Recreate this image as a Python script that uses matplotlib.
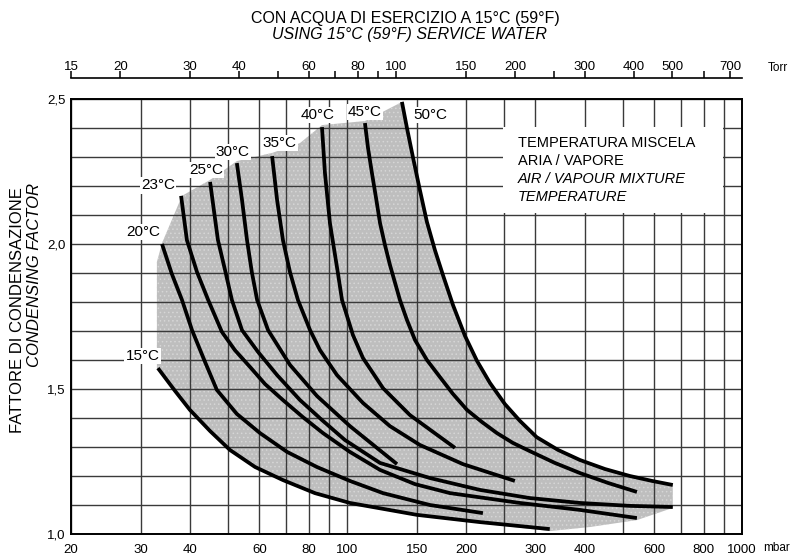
import matplotlib

matplotlib.use("Agg")
import matplotlib.pyplot as plt
from matplotlib.patches import Rectangle
from matplotlib.ticker import FixedLocator, MultipleLocator, FuncFormatter, NullFormatter

plt.rcParams["font.family"] = ["Liberation Sans Narrow", "Liberation Sans", "DejaVu Sans"]
plt.rcParams["hatch.linewidth"] = 0.6

TORR_PER_MBAR = 0.750062

# bottom axis (mbar) and top axis (Torr)
MBAR_LABELS = [20, 30, 40, 60, 80, 100, 150, 200, 300, 400, 600, 800, 1000]
MBAR_GRID = [20, 30, 40, 50, 60, 70, 80, 90, 100, 150, 200, 250, 300, 400,
             500, 600, 700, 800, 900, 1000]
TORR_LABELS = [15, 20, 30, 40, 60, 80, 100, 150, 200, 300, 400, 500, 700]
TORR_TICKS = [15, 20, 30, 40, 50, 60, 70, 80, 90, 100, 150, 200, 250, 300,
              400, 500, 600, 700]
FACTOR_LABELS = [1.0, 1.5, 2.0, 2.5]

# condensing factor curves, one per air/vapour mixture temperature
T15_MBAR = [33.2, 36.7, 40.0, 45.0, 50.5, 58.5, 68.8, 82.9, 101.7, 150.3, 217, 326]
T15_F = [1.572, 1.493, 1.428, 1.355, 1.290, 1.231, 1.186, 1.141, 1.107, 1.066, 1.041, 1.017]

T20_MBAR = [34.0, 36.0, 38.2, 40.5, 43.7, 46.8, 52.6, 60.2, 70.5, 83.9, 101.7, 123.3, 162.1, 220.8]
T20_F = [2.000, 1.897, 1.807, 1.703, 1.593, 1.497, 1.414, 1.348, 1.283, 1.231, 1.183, 1.141, 1.100, 1.072]

T23_MBAR = [38.0, 39.3, 41.7, 44.5, 48.2, 52.0, 56.8, 62.0, 68.8, 77.3, 86.9, 101.7, 121.2,
            148.6, 182.2, 274, 389, 542]
T23_F = [2.166, 2.014, 1.903, 1.807, 1.697, 1.634, 1.576, 1.517, 1.462, 1.403, 1.348, 1.283,
         1.221, 1.172, 1.141, 1.107, 1.083, 1.055]

T25_MBAR = [45.0, 46.0, 47.1, 49.1, 51.1, 54.2, 59.5, 66.5, 76.0, 86.4, 98.8, 121.2, 162.1,
            217, 290, 389, 520, 668]
T25_F = [2.214, 2.117, 2.014, 1.910, 1.807, 1.703, 1.628, 1.548, 1.462, 1.393, 1.324, 1.245,
         1.193, 1.152, 1.124, 1.107, 1.097, 1.093]

T30_MBAR = [52.6, 54.2, 55.8, 57.4, 59.2, 63.1, 71.7, 83.9, 101.7, 133.8]
T30_F = [2.279, 2.152, 2.014, 1.903, 1.807, 1.703, 1.583, 1.476, 1.372, 1.241]

T35_MBAR = [64.6, 66.5, 68.8, 71.7, 75.1, 80.6, 85.4, 94.3, 109.7, 128.4, 152.9, 196.5, 266]
T35_F = [2.303, 2.152, 2.014, 1.903, 1.807, 1.703, 1.634, 1.548, 1.452, 1.372, 1.307, 1.241, 1.183]

T40_MBAR = [86.4, 87.9, 90.5, 94.8, 97.1, 103.5, 109.7, 123.3, 144.3, 187.6]
T40_F = [2.403, 2.245, 2.072, 1.900, 1.807, 1.686, 1.607, 1.503, 1.410, 1.297]

T45_MBAR = [111.0, 113.0, 115.6, 118.4, 121.2, 124.7, 128.4, 136.1, 141.8, 148.6, 159.3,
            171.9, 185.4, 201.2, 219.6, 239.6, 263, 290, 336, 389, 458, 542]
T45_F = [2.417, 2.331, 2.245, 2.159, 2.072, 1.997, 1.928, 1.807, 1.738, 1.669, 1.600,
         1.541, 1.483, 1.428, 1.386, 1.348, 1.314, 1.286, 1.245, 1.210, 1.176, 1.145]

T50_MBAR = [137.7, 141.8, 146.8, 152.9, 159.3, 166.9, 174.9, 185.4, 198.9, 213.3, 230,
            251, 274, 302, 342, 389, 450, 520, 592, 668]
T50_F = [2.490, 2.400, 2.300, 2.186, 2.076, 1.979, 1.893, 1.790, 1.683, 1.597, 1.521,
         1.448, 1.390, 1.334, 1.290, 1.255, 1.224, 1.200, 1.183, 1.169]

# outline of the shaded field of validity (apex, 50 °C side, bottom, left side, top edge)
SHADE_MBAR = [141, 137.7, 141.8, 146.8, 152.9, 159.3, 166.9, 174.9, 185.4, 198.9, 213.3, 230,
              251, 274, 302, 342, 389, 450, 520, 592, 668,
              668, 542, 412, 326, 217, 150.3, 101.7, 82.9, 68.8, 58.5, 50.5, 45.0,
              40.0, 36.7, 33.2, 33.0, 33.0, 34.0, 38.2, 45.0, 52.6, 64.6, 76.0, 86.4, 111.0]
SHADE_F = [2.497, 2.490, 2.400, 2.300, 2.186, 2.076, 1.979, 1.893, 1.790, 1.683, 1.597, 1.521,
           1.448, 1.390, 1.334, 1.290, 1.255, 1.224, 1.200, 1.183, 1.169,
           1.090, 1.048, 1.024, 1.010, 1.037, 1.062, 1.103, 1.137, 1.182, 1.227, 1.286, 1.351,
           1.424, 1.489, 1.568, 1.572, 1.938, 2.003, 2.166, 2.221, 2.286, 2.314, 2.348, 2.410, 2.424]

CURVES = [
    ("15°C", T15_MBAR, T15_F, (30.4, 1.614)),
    ("20°C", T20_MBAR, T20_F, (30.4, 2.041)),
    ("23°C", T23_MBAR, T23_F, (33.2, 2.203)),
    ("25°C", T25_MBAR, T25_F, (43.9, 2.255)),
    ("30°C", T30_MBAR, T30_F, (51.4, 2.317)),
    ("35°C", T35_MBAR, T35_F, (67.6, 2.348)),
    ("40°C", T40_MBAR, T40_F, (84.4, 2.445)),
    ("45°C", T45_MBAR, T45_F, (111.0, 2.455)),
    ("50°C", T50_MBAR, T50_F, (162.1, 2.445)),
]

W, H = 794, 557


def main() -> None:
    fig = plt.figure(figsize=(W / 100, H / 100), dpi=100)
    left, right, top, bottom = 71, 742, 99, 534
    ax = fig.add_axes([left / W, 1 - bottom / H, (right - left) / W, (bottom - top) / H])
    ax.set_xscale("log")
    ax.set_xlim(20, 1000)
    ax.set_ylim(1.0, 2.5)

    ax.xaxis.set_major_locator(FixedLocator(MBAR_LABELS))
    ax.xaxis.set_major_formatter(FuncFormatter(lambda v, p: f"{v:g}"))
    ax.xaxis.set_minor_locator(FixedLocator(MBAR_GRID))
    ax.xaxis.set_minor_formatter(NullFormatter())
    ax.yaxis.set_major_locator(FixedLocator(FACTOR_LABELS))
    ax.yaxis.set_major_formatter(FuncFormatter(lambda v, p: f"{v:.1f}".replace(".", ",")))
    ax.yaxis.set_minor_locator(MultipleLocator(0.1))
    ax.tick_params(which="both", length=0, labelsize=9.5)
    ax.tick_params(axis="x", pad=7)
    ax.tick_params(axis="y", pad=4)
    ax.grid(True, which="both", color="#3a3a3a", linewidth=1.0)
    ax.set_axisbelow(False)
    for s in ax.spines.values():
        s.set_linewidth(1.4)
        s.set_zorder(6)

    ax.fill(SHADE_MBAR, SHADE_F, facecolor="#bebebe", edgecolor="#d6d6d6",
            hatch="....", linewidth=0, zorder=0.5)
    for g in ax.get_xgridlines() + ax.get_ygridlines():
        g.set_zorder(1)

    for label, xs, ys, (lx, ly) in CURVES:
        ax.plot(xs, ys, color="black", linewidth=2.7, solid_capstyle="butt",
                solid_joinstyle="round", zorder=3)
        ax.text(lx, ly, label, ha="center", va="center", fontsize=11, zorder=5,
                bbox=dict(facecolor="white", edgecolor="none", pad=1.0))

    # legend box
    bx0, by0 = (503 - left) / (right - left), (bottom - 213) / (bottom - top)
    ax.add_patch(Rectangle((bx0, by0), 220 / (right - left), 86 / (bottom - top),
                           transform=ax.transAxes, facecolor="white", edgecolor="none", zorder=4))
    tx = (518 - left) / (right - left)
    box_lines = [("TEMPERATURA MISCELA", "normal", 143), ("ARIA / VAPORE", "normal", 161),
                 ("AIR / VAPOUR MIXTURE", "italic", 179), ("TEMPERATURE", "italic", 197)]
    for txt, style, py in box_lines:
        ax.text(tx, (bottom - py) / (bottom - top), txt, transform=ax.transAxes,
                ha="left", va="center", fontsize=10.5, style=style, zorder=5)

    # Torr scale above the chart
    line_y = 78
    axt = fig.add_axes([left / W, 1 - line_y / H, (right - left) / W, 0.001])
    axt.set_xscale("log")
    axt.set_xlim(15, 1000 * TORR_PER_MBAR)
    axt.set_ylim(0, 1)
    axt.patch.set_visible(False)
    for name, s in axt.spines.items():
        s.set_visible(name == "bottom")
    axt.spines["bottom"].set_linewidth(1.2)
    axt.yaxis.set_visible(False)
    axt.xaxis.set_major_locator(FixedLocator(TORR_TICKS))
    axt.xaxis.set_major_formatter(
        FuncFormatter(lambda v, p: f"{v:g}" if round(v) in TORR_LABELS else ""))
    axt.xaxis.set_minor_locator(FixedLocator([]))
    axt.tick_params(axis="x", which="major", direction="in", length=5, width=1.1,
                    bottom=True, top=False, labelbottom=False, labeltop=True,
                    labelsize=9.5, pad=3)

    fig.text(778 / W, 1 - 68 / H, "Torr", fontsize=8.5, ha="center", va="center")
    fig.text(777 / W, 1 - 548 / H, "mbar", fontsize=8.5, ha="center", va="center")

    fig.text(405 / W, 1 - 18 / H, "CON ACQUA DI ESERCIZIO A 15°C (59°F)",
             fontsize=11.5, ha="center", va="center")
    fig.text(409 / W, 1 - 35 / H, "USING 15°C (59°F) SERVICE WATER",
             fontsize=11.5, ha="center", va="center", style="italic")

    fig.text(18 / W, 1 - 310 / H, "FATTORE DI CONDENSAZIONE", rotation=90,
             fontsize=12, ha="center", va="center")
    fig.text(35 / W, 1 - 275 / H, "CONDENSING FACTOR", rotation=90,
             fontsize=12, ha="center", va="center", style="italic")

    fig.savefig("out.png", dpi=100, facecolor="white")
    plt.close(fig)


if __name__ == "__main__":
    main()
